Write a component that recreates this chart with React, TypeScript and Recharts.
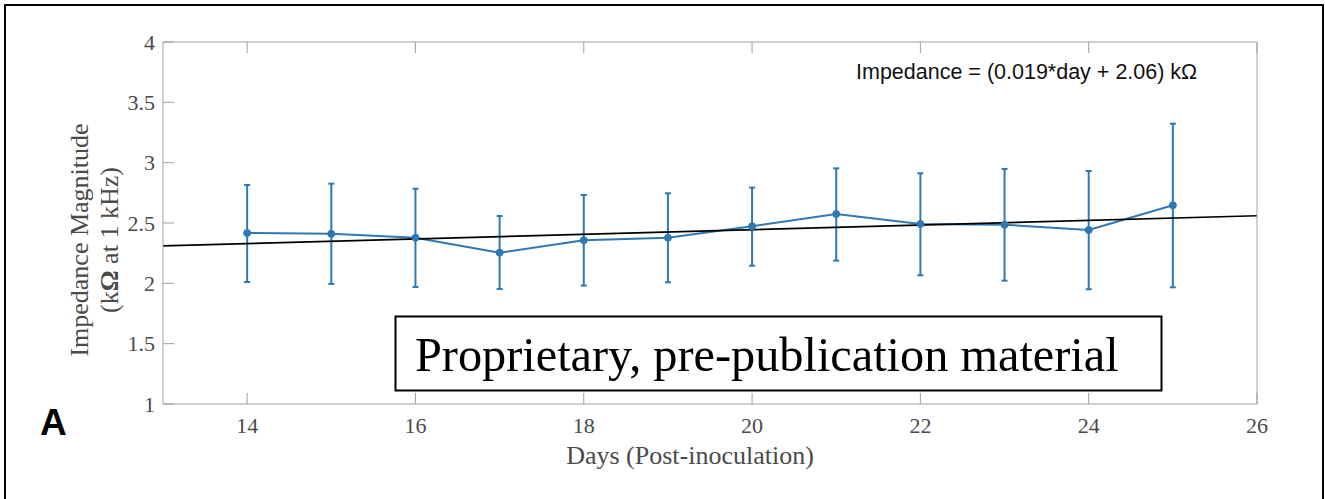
import React from 'react';
import { LineChart, Line, XAxis, YAxis, ErrorBar } from 'recharts';

const days = [14, 15, 16, 17, 18, 19, 20, 21, 22, 23, 24, 25];
const meanImpedance = [2.417, 2.41, 2.378, 2.254, 2.357, 2.378, 2.473, 2.575, 2.492, 2.486, 2.442, 2.647];
const upperBound = [2.815, 2.826, 2.784, 2.558, 2.732, 2.746, 2.793, 2.953, 2.912, 2.948, 2.931, 3.323];
const lowerBound = [2.011, 1.995, 1.97, 1.953, 1.981, 2.009, 2.146, 2.188, 2.067, 2.022, 1.951, 1.967];
const trendDays = [13, 26];
const trendValues = [2.31, 2.56];
const xTicks = [14, 16, 18, 20, 22, 24, 26];
const yTicks = [1, 1.5, 2, 2.5, 3, 3.5, 4];

const equationText = 'Impedance = (0.019*day + 2.06) kΩ';
const xLabelText = 'Days (Post-inoculation)';
const yLabelLine1 = 'Impedance Magnitude';
const watermarkText = 'Proprietary, pre-publication material';
const panelLetter = 'A';

const tableData = days.map((d, i) => ({
  day: d,
  value: meanImpedance[i],
  err: [meanImpedance[i] - lowerBound[i], upperBound[i] - meanImpedance[i]],
}));
const trendData = trendDays.map((d, i) => ({ day: d, trend: trendValues[i] }));

const BLUE = '#2e78b4';
const AXIS = '#a0a0a0';
const TEXT = '#4a4a4a';
const SERIF = '"Liberation Serif", "Times New Roman", serif';
const SANS = '"Liberation Sans", Arial, sans-serif';

const tickStyle = { fontFamily: SERIF, fontSize: 22, fill: TEXT };

const YLabel = (props: any) => {
  const vb = props.viewBox || {};
  const cy = vb.y + vb.height / 2 + 17;
  return (
    <g>
      <text
        x={88}
        y={cy}
        transform={`rotate(-90, 88, ${cy})`}
        textAnchor="middle"
        fontFamily={SERIF}
        fontSize={26}
        fill={TEXT}
      >
        {yLabelLine1}
      </text>
      <text
        x={118}
        y={cy}
        transform={`rotate(-90, 118, ${cy})`}
        textAnchor="middle"
        fontFamily={SERIF}
        fontSize={26}
        fill={TEXT}
      >
        (k<tspan fontWeight="bold">Ω</tspan> at 1 kHz)
      </text>
    </g>
  );
};

const XLabel = (props: any) => {
  const vb = props.viewBox || {};
  const cx = vb.x + vb.width / 2 - 20;
  return (
    <text x={cx} y={464} textAnchor="middle" fontFamily={SERIF} fontSize={26} fill={TEXT}>
      {xLabelText}
    </text>
  );
};

export default function App() {
  return (
    <div
      style={{
        position: 'absolute',
        left: 0,
        top: 0,
        width: 1325,
        height: 499,
        overflow: 'hidden',
        background: '#fff',
      }}
    >
      <div
        style={{
          position: 'absolute',
          left: 4,
          top: 4,
          width: 1316,
          height: 520,
          border: '2px solid #000',
        }}
      />
      <div style={{ position: 'absolute', left: 0, top: 0 }}>
        <LineChart
          width={1325}
          height={499}
          data={tableData}
          margin={{ top: 41, right: 67, bottom: 0, left: 0 }}
        >
          <XAxis
            dataKey="day"
            type="number"
            domain={[13, 26]}
            ticks={xTicks}
            interval={0}
            height={95}
            stroke={AXIS}
            tickSize={-11}
            tickMargin={24}
            tick={tickStyle}
            label={<XLabel />}
          />
          <XAxis
            xAxisId="top"
            orientation="top"
            dataKey="day"
            type="number"
            domain={[13, 26]}
            ticks={xTicks}
            interval={0}
            height={1}
            stroke={AXIS}
            tickSize={-11}
            tickFormatter={() => ''}
          />
          <YAxis
            type="number"
            domain={[1, 4]}
            ticks={yTicks}
            interval={0}
            width={163}
            stroke={AXIS}
            tickSize={-11}
            tickMargin={19}
            tick={tickStyle}
            label={<YLabel />}
          />
          <YAxis
            yAxisId="right"
            orientation="right"
            type="number"
            domain={[1, 4]}
            ticks={yTicks}
            interval={0}
            width={1}
            stroke={AXIS}
            tickSize={-11}
            tickFormatter={() => ''}
          />
          <Line
            dataKey="value"
            stroke={BLUE}
            strokeWidth={2}
            dot={{ r: 3.5, fill: BLUE, stroke: BLUE, strokeWidth: 1 }}
            isAnimationActive={false}
          >
            <ErrorBar dataKey="err" direction="y" width={3} stroke={BLUE} strokeWidth={2} isAnimationActive={false} />
          </Line>
          <Line
            data={trendData}
            dataKey="trend"
            stroke="#000"
            strokeWidth={1.7}
            dot={false}
            isAnimationActive={false}
          />
        </LineChart>
      </div>
      <svg
        width={1325}
        height={499}
        style={{ position: 'absolute', left: 0, top: 0, pointerEvents: 'none' }}
      >
        <text x={856} y={79} fontFamily={SANS} fontSize={21.5} fill="#111">
          {equationText}
        </text>
        <rect x={395.5} y={316.5} width={766} height={74} fill="#fff" stroke="#000" strokeWidth={2} />
        <text x={415} y={371} fontFamily={SERIF} fontSize={48.3} fill="#000">
          {watermarkText}
        </text>
        <text x={40} y={435} fontFamily={SANS} fontSize={37} fontWeight="bold" fill="#000">
          {panelLetter}
        </text>
      </svg>
    </div>
  );
}
